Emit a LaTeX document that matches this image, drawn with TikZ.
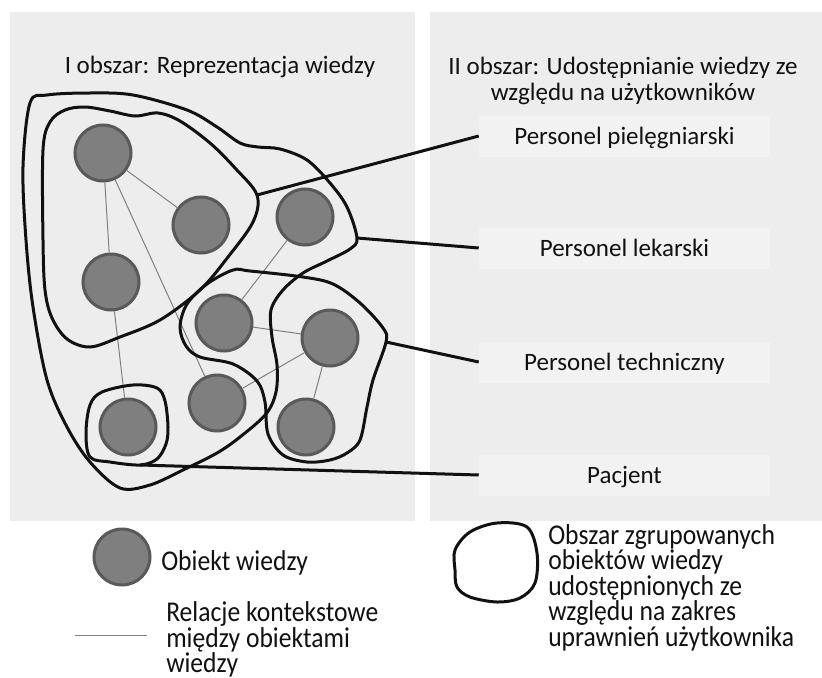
\documentclass[tikz,border=0pt]{standalone}
\usepackage{fontspec}
\setmainfont{Carlito}
\definecolor{panelbg}{HTML}{EDEDED}
\definecolor{boxbg}{HTML}{F2F2F2}
\definecolor{objfill}{HTML}{7F7F7F}
\definecolor{objline}{HTML}{595959}
\definecolor{relgray}{HTML}{808080}
\definecolor{ink}{HTML}{111111}
\newcommand{\mfs}{\fontsize{18.75}{22}\selectfont}
\newcommand{\lfs}{\fontsize{19.2}{22}\selectfont}
\newcommand{\tall}[1]{\scalebox{1}[1.12]{#1}}
\tikzset{
  panel/.style={fill=panelbg, draw=none},
  obj/.style={circle, fill=objfill, draw=objline, line width=2.25pt, minimum size=42pt, inner sep=0pt},
  rel/.style={draw=relgray, line width=0.75pt},
  zone/.style={draw=ink, line width=2.25pt},
  conn/.style={draw=ink, line width=2.25pt},
  lab/.style={fill=boxbg, minimum width=218.25pt, minimum height=30.75pt, inner sep=0pt, text height=16pt, text depth=4pt, font=\mfs, text=ink},
  ttl/.style={anchor=base, inner sep=0pt, font=\mfs, text=ink},
  leg/.style={anchor=base west, inner sep=0pt, font=\lfs, text=ink}
}
\begin{document}
\begin{tikzpicture}[x=0.75pt,y=-0.75pt]
\useasboundingbox (0,0) rectangle (822,678);
\fill[white] (0,0) rectangle (822,678);
% panels
\fill[panel] (10,12) rectangle (415,521);
\fill[panel] (430,12) rectangle (822,521);
% titles
\node[ttl] (t1) at (220,73) {I obszar: Reprezentacja wiedzy};
\node[ttl] (t2a) at (623,74) {II obszar: Udostępnianie wiedzy ze};
\node[ttl] (t2b) at (623,100) {względu na użytkowników};
% label boxes
\node[lab] (l1) at (624.5,136) {Personel pielęgniarski};
\node[lab] (l2) at (624.5,248) {Personel lekarski};
\node[lab] (l3) at (624.5,362) {Personel techniczny};
\node[lab] (l4) at (624.5,475) {Pacjent};
% knowledge objects
\node[obj] (o1) at (103,153) {};
\node[obj] (o2) at (201,225) {};
\node[obj] (o3) at (305,217) {};
\node[obj] (o4) at (111,282) {};
\node[obj] (o5) at (224,323) {};
\node[obj] (o6) at (330,338) {};
\node[obj] (o7) at (128,427) {};
\node[obj] (o8) at (217,403) {};
\node[obj] (o9) at (306,427) {};
% relations
\draw[rel] (o1) -- (o2);
\draw[rel] (o1) -- (o4);
\draw[rel] (o1) -- (o8);
\draw[rel] (o4) -- (o7);
\draw[rel] (o3) -- (o5);
\draw[rel] (o5) -- (o6);
\draw[rel] (o6) -- (o8);
\draw[rel] (o6) -- (o9);
% contour anchor points
\coordinate (pA) at (257,195);
\coordinate (pB) at (357,238);
\coordinate (pC) at (386,342);
\coordinate (pD) at (140,465);
% contour A (pielegniarski)
\draw[zone] plot[smooth cycle, tension=0.55] coordinates {
 (43,150) (50,122) (65,110) (85,107) (110,111) (135,116) (158,113) (180,121)
 (210,143) (235,168) (pA) (253,222) (228,257) (200,290) (160,320) (120,337)
 (90,347) (67,339) (52,318) (45,290) (43,240)};
% contour B (lekarski)
\draw[zone] plot[smooth cycle, tension=0.55] coordinates {
 (30,103) (47,95) (90,93) (133,95) (187,110) (217,127) (240,143) (258,147)
 (280,149) (307,160) (330,183) (347,207) (pB) (350,249) (327,261) (303,273)
 (283,290) (271,310) (272,337) (277,365) (276,392) (266,414) (240,437)
 (217,453) (183,470) (150,485) (120,488) (90,462) (67,427) (47,380) (33,307)
 (26,240) (23,167)};
% contour C (techniczny)
\draw[zone] plot[smooth cycle, tension=0.55] coordinates {
 (233,270) (250,271) (303,277) (333,284) (360,303) (383,328) (pC)
 (373,380) (367,407) (360,440) (347,453) (330,460) (307,462) (283,455)
 (268,434) (265,402) (257,381) (233,364) (200,357) (186,346) (180,327)
 (187,304) (207,284)};
% contour D (pacjent)
\draw[zone] plot[smooth cycle, tension=0.55] coordinates {
 (90,457) (86,433) (90,405) (102,392) (133,385) (157,388) (165,401)
 (168,427) (166,444) (157,459) (pD) (110,462)};
% connectors
\draw[conn] (pA) -- (l1.west);
\draw[conn] (pB) -- (l2.west);
\draw[conn] (pC) -- (l3.west);
\draw[conn] (pD) -- (l4.west);
% legend
\node[obj] (legobj) at (122,557) {};
\node[leg] (lg1) at (161,570) {\tall{Obiekt wiedzy}};
\coordinate (lr1) at (75,635);
\coordinate (lr2) at (147,635);
\draw[rel] (lr1) -- (lr2);
\node[leg] (lg2) at (166,621) {\tall{Relacje kontekstowe}};
\node[leg] (lg3) at (166,647) {\tall{między obiektami}};
\node[leg] (lg4) at (166,672) {\tall{wiedzy}};
\draw[zone] plot[smooth cycle, tension=0.55] coordinates {
 (455,550) (470,532) (497,523) (527,527) (537,553) (535,583) (520,598)
 (497,602) (470,597) (457,587) (455,570)};
\node[leg] (lz1) at (548,544) {\tall{Obszar zgrupowanych}};
\node[leg] (lz2) at (548,569.5) {\tall{obiektów wiedzy}};
\node[leg] (lz3) at (548,595) {\tall{udostępnionych ze}};
\node[leg] (lz4) at (548,620.5) {\tall{względu na zakres}};
\node[leg] (lz5) at (548,646) {\tall{uprawnień użytkownika}};
\end{tikzpicture}
\end{document}
